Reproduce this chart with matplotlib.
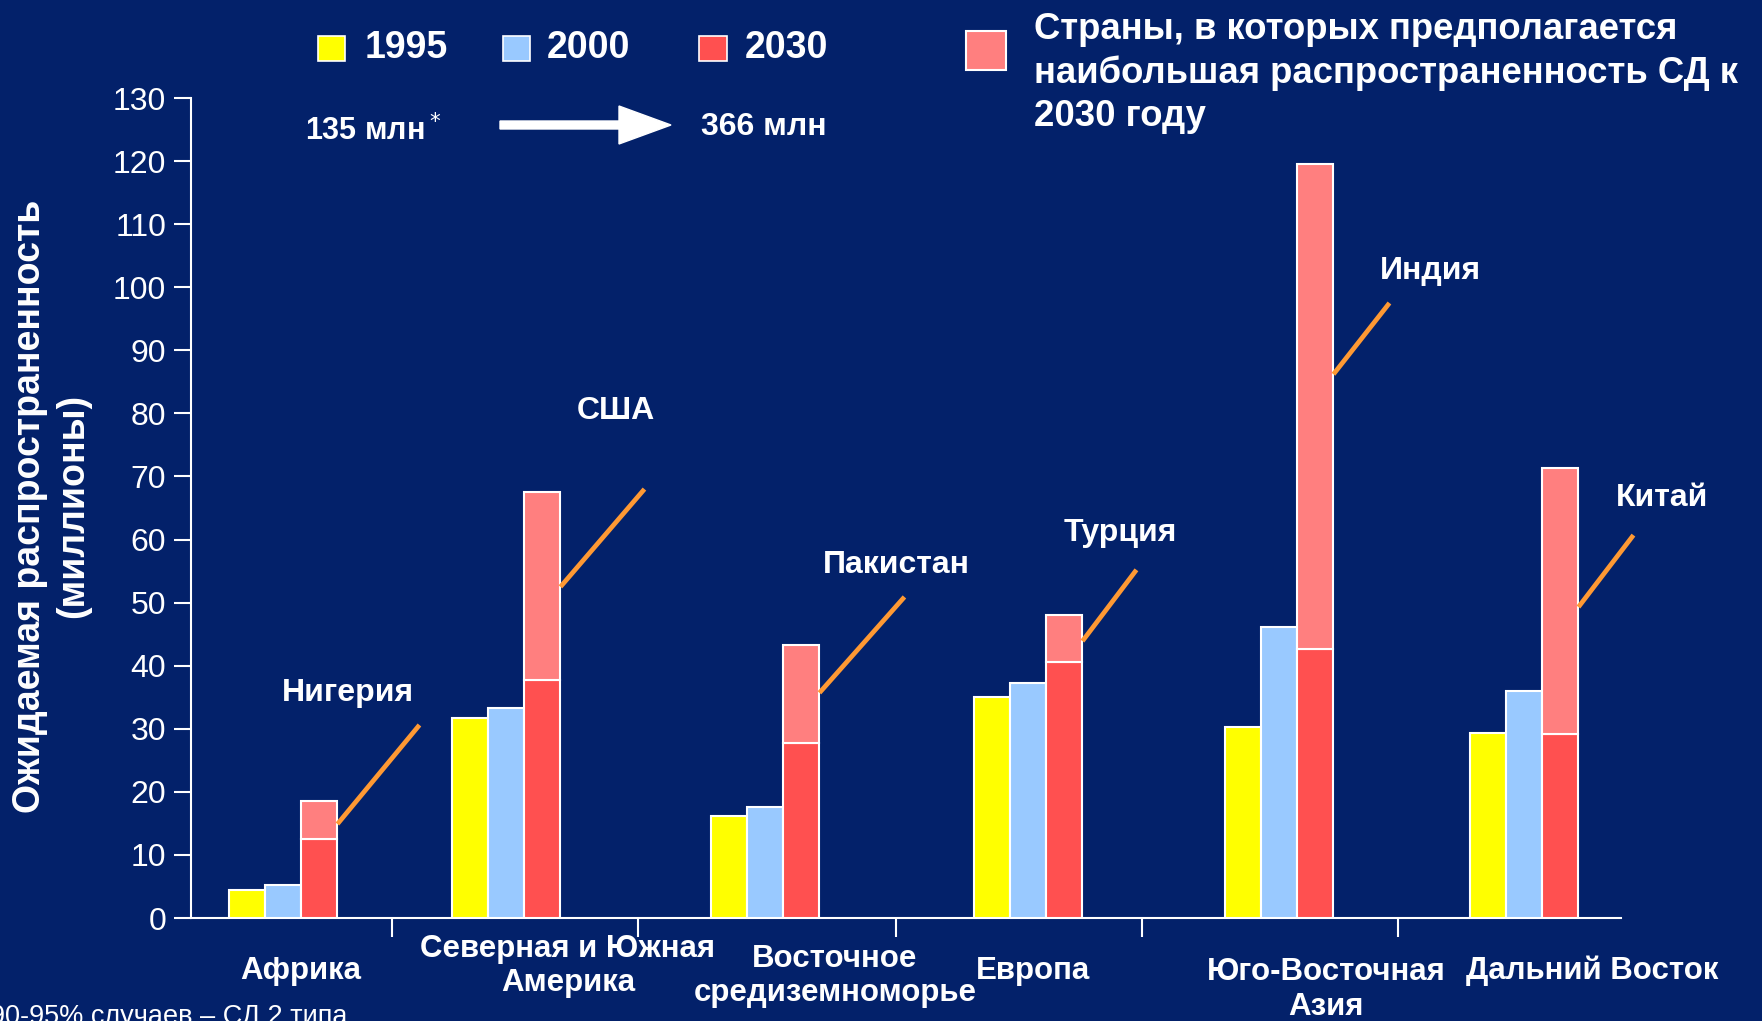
import matplotlib.pyplot as plt
from matplotlib import font_manager
from matplotlib.patches import Rectangle, FancyArrow
from matplotlib.transforms import IdentityTransform

# Данные (млн человек)
regioes = ['Африка', 'Северная и Южная\nАмерика', 'Восточное\nсредиземноморье',
           'Европа', 'Юго-Восточная\nАзия', 'Дальний Восток']
v1995 = [4.5, 31.7, 16.2, 35.1, 30.3, 29.4]
v2000 = [5.2, 33.3, 17.6, 37.2, 46.1, 36.0]
v2030_base = [12.6, 37.7, 27.8, 40.6, 42.6, 29.2]
v2030_total = [18.5, 67.5, 43.3, 48.1, 119.5, 71.4]
paises = ['Нигерия', 'США', 'Пакистан', 'Турция', 'Индия', 'Китай']
yticks = list(range(0, 131, 10))

# Layout (pixel-based x axis)
W, H = 1762, 1021
centros = [92, 315, 574, 837, 1088, 1333]
largura = 36.3
divisores = [201, 447, 705, 951, 1207]
label_x = [110, 377, 644, 842, 1135, 1401]
label_y = [-0.0646, -0.0585, -0.0707, -0.0646, -0.0872, -0.0646]
# линии-выноски: высота начала, сдвиг, позиция подписи
callout_y0 = [14.9, 52.5, 35.7, 43.9, 86.2, 49.3]
callout_dx = [82, 84, 85, 54, 56, 55]
callout_dy = [15.7, 15.5, 15.2, 11.3, 11.3, 11.4]
pais_pos = [(157, 35.7), (425, 80.4), (705, 56.0), (929, 61.0), (1239, 102.6), (1471, 66.6)]

fundo = '#03216A'
amarelo = '#FFFF00'
azul = '#99C9FF'
vermelho = '#FF5050'
rosa = '#FF7F7F'
laranja = '#FF9933'

nomes = {f.name for f in font_manager.fontManager.ttflist}
narrow = 'Liberation Sans Narrow' if 'Liberation Sans Narrow' in nomes else 'Liberation Sans'
plt.rcParams['font.family'] = ['Liberation Sans', 'DejaVu Sans']

fig = plt.figure(figsize=(W / 100, H / 100), dpi=100, facecolor=fundo)
ax = fig.add_axes([191 / W, 1 - 918 / H, 1430 / W, 820 / H], facecolor=fundo)

def px(x, y):
    return x / W, 1 - y / H

# Barras
x1 = [c - largura for c in centros]
x3 = [c + largura for c in centros]
topo = [t - b for t, b in zip(v2030_total, v2030_base)]
kw = dict(width=largura, edgecolor='white', linewidth=1.5, zorder=3)
ax.bar(x1, v1995, color=amarelo, **kw)
ax.bar(centros, v2000, color=azul, **kw)
ax.bar(x3, v2030_base, color=vermelho, **kw)
ax.bar(x3, topo, bottom=v2030_base, color=rosa, **kw)

# Выноски со странами
for i in range(len(paises)):
    x0 = x3[i] + largura / 2
    y0 = callout_y0[i]
    ax.plot([x0, x0 + callout_dx[i]], [y0, y0 + callout_dy[i]], color=laranja,
            lw=3.4, solid_capstyle='butt', zorder=4, clip_on=False)
    ax.text(pais_pos[i][0], pais_pos[i][1], paises[i], color='white', fontsize=23,
            fontweight='bold', ha='center', va='center')

# Eixos
ax.set_xlim(0, 1430)
ax.set_ylim(0, 130)
ax.set_yticks(yticks)
ax.set_xticks(divisores)
ax.set_xticklabels([])
for s in ['top', 'right']:
    ax.spines[s].set_visible(False)
for s in ['left', 'bottom']:
    ax.spines[s].set_color('white')
    ax.spines[s].set_linewidth(1.5)
ax.tick_params(axis='y', colors='white', labelsize=23, length=12, width=1.5, pad=6)
ax.tick_params(axis='x', colors='white', length=14, width=1.5)

for i, nome in enumerate(regioes):
    ax.text(label_x[i], label_y[i], nome, transform=ax.get_xaxis_transform(),
            color='white', fontsize=22.5, fontweight='bold', family=narrow,
            ha='center', va='center', linespacing=1.2)

fig.text(*px(52, 506), 'Ожидаемая распространенность\n(миллионы)', rotation=90,
         color='white', fontsize=27, fontweight='bold', family=narrow,
         ha='center', va='center', linespacing=1.25)

# Legenda
for (x, y, w, h), cor, txt, tx in [((318, 36, 27, 25), amarelo, '1995', 365),
                                   ((503, 36, 27, 25), azul, '2000', 547),
                                   ((699, 36, 28, 25), vermelho, '2030', 745)]:
    fig.patches.append(Rectangle(px(x, y + h), w / W, h / H, transform=fig.transFigure,
                                 facecolor=cor, edgecolor='white', linewidth=1.2))
    fig.text(*px(tx, 48), txt, color='white', fontsize=27, fontweight='bold',
             family=narrow, ha='left', va='center')

fig.patches.append(Rectangle(px(966, 70), 40 / W, 39 / H, transform=fig.transFigure,
                             facecolor=rosa, edgecolor='white', linewidth=1.5))
fig.text(*px(1034, 73), 'Страны, в которых предполагается\nнаибольшая распространенность СД к\n2030 году',
         color='white', fontsize=26.3, fontweight='bold', family=narrow,
         ha='left', va='center', linespacing=1.3)

fig.text(*px(305, 131), '135 млн$^*$', color='white', fontsize=22, fontweight='bold',
         family=narrow, ha='left', va='center')
fig.text(*px(701, 127), '366 млн', color='white', fontsize=23, fontweight='bold',
         family=narrow, ha='left', va='center')
fig.add_artist(FancyArrow(500, H - 125, 171, 0, width=8, head_width=38, head_length=52,
                          length_includes_head=True, color='white',
                          transform=IdentityTransform()))

fig.text(*px(-10, 1004), '90-95% случаев – СД 2 типа', color='white', fontsize=19.5,
         ha='left', va='top')

fig.savefig('out.png', dpi=100, facecolor=fundo)
